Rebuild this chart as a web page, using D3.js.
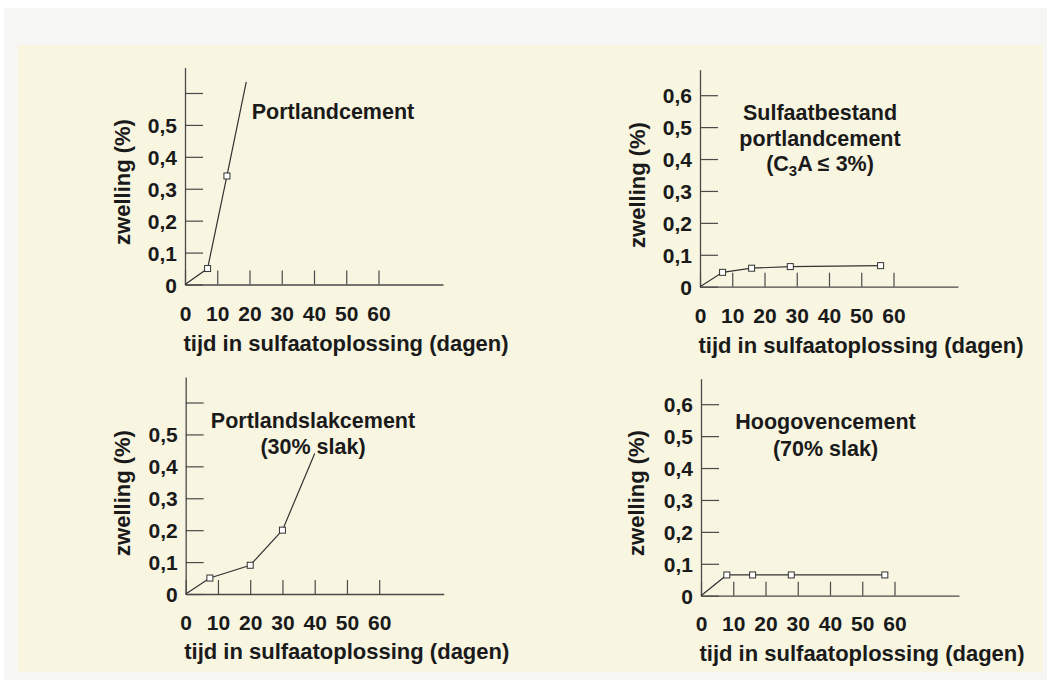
<!DOCTYPE html>
<html>
<head>
<meta charset="utf-8">
<script src="https://cdn.jsdelivr.net/npm/d3@7"></script>
<style>
  html, body { margin: 0; padding: 0; background: #ffffff; }
  svg { display: block; }
  text { font-family: "Liberation Sans", Arial, Helvetica, sans-serif; font-weight: bold; fill: #1a1a1a; }
</style>
</head>
<body>
<svg id="chart" width="1047" height="684"></svg>
<script>
// ---------- data ----------
const xTickValues = [0, 10, 20, 30, 40, 50, 60];
const yTickValues = [0, 0.1, 0.2, 0.3, 0.4, 0.5, 0.6];
const yLabelsShort = [0, 0.1, 0.2, 0.3, 0.4, 0.5];        // left panels: 0,6 tick unlabelled
const yLabelsFull  = [0, 0.1, 0.2, 0.3, 0.4, 0.5, 0.6];

const xTitle = "tijd in sulfaatoplossing (dagen)";
const yTitle = "zwelling (%)";

// Portlandcement
const pcDays   = [0, 7, 13, 19];
const pcSwell  = [0, 0.05, 0.34, 0.635];
const pcMarked = [false, true, true, false];

// Sulfaatbestand portlandcement
const srDays   = [0, 7, 16, 28, 56];
const srSwell  = [0, 0.045, 0.058, 0.063, 0.066];
const srMarked = [false, true, true, true, true];

// Portlandslakcement (30% slak)
const psDays   = [0, 7.5, 20, 30, 40];
const psSwell  = [0, 0.05, 0.09, 0.2, 0.44];
const psMarked = [false, true, true, true, false];

// Hoogovencement (70% slak)
const hoDays   = [0, 8, 16, 28, 57];
const hoSwell  = [0, 0.065, 0.065, 0.065, 0.065];
const hoMarked = [false, true, true, true, true];

// ---------- layout ----------
const svg = d3.select("#chart");
svg.append("rect").attr("x", 0).attr("y", 0).attr("width", 1047).attr("height", 684).attr("fill", "#ffffff");
svg.append("rect").attr("x", 4).attr("y", 8).attr("width", 1043).attr("height", 672).attr("fill", "#f6f6f5");
svg.append("rect").attr("x", 18).attr("y", 45).attr("width", 1025).attr("height", 627).attr("fill", "#f8f5e1");

const W60 = 193.5, H06 = 191.5;

const panels = [
  { days: pcDays, swell: pcSwell, marked: pcMarked, labels: yLabelsShort,
    x0: 185, y0: 284.5, xLabBase: 320.5, xTitleBase: 350.5, yTitleX: 130, yTitleY: 182,
    title: [["Portlandcement"]], titleX: 333, titleBase: [119] },
  { days: srDays, swell: srSwell, marked: srMarked, labels: yLabelsFull,
    x0: 700, y0: 286.7, xLabBase: 323, xTitleBase: 353, yTitleX: 645, yTitleY: 185,
    title: [["Sulfaatbestand"], ["portlandcement"], ["(C", "3", "A \u2264 3%)"]], titleX: 820, titleBase: [120, 145.5, 171] },
  { days: psDays, swell: psSwell, marked: psMarked, labels: yLabelsShort,
    x0: 185.7, y0: 594, xLabBase: 630, xTitleBase: 659, yTitleX: 130, yTitleY: 493,
    title: [["Portlandslakcement"], ["(30% slak)"]], titleX: 313, titleBase: [427.5, 453.5] },
  { days: hoDays, swell: hoSwell, marked: hoMarked, labels: yLabelsFull,
    x0: 701, y0: 595.7, xLabBase: 631, xTitleBase: 661, yTitleX: 644, yTitleY: 493,
    title: [["Hoogovencement"], ["(70% slak)"]], titleX: 825.5, titleBase: [429, 455.5] }
];

const fmt = v => v === 0 ? "0" : d3.format(".1f")(v).replace(".", ",");

panels.forEach(p => {
  const g = svg.append("g");
  const x = d3.scaleLinear().domain([0, 80]).range([p.x0, p.x0 + W60 * 80 / 60]);
  const y = d3.scaleLinear().domain([0, 0.68]).range([p.y0, p.y0 - H06 * 0.68 / 0.6]);

  // y axis (ticks point into plot, labels to the left)
  const yAxis = d3.axisLeft(y)
    .tickValues(yTickValues)
    .tickSizeInner(-18)
    .tickSizeOuter(0)
    .tickPadding(8)
    .tickFormat(v => p.labels.some(l => Math.abs(l - v) < 1e-9) ? fmt(v) : "");
  const ya = g.append("g").attr("transform", `translate(${p.x0},0)`).call(yAxis);

  // x axis (ticks point up into plot)
  const xAxis = d3.axisBottom(x)
    .tickValues(xTickValues)
    .tickSizeInner(-14)
    .tickSizeOuter(0)
    .tickPadding(0)
    .tickFormat(d3.format("d"));
  const xa = g.append("g").attr("transform", `translate(0,${p.y0})`).call(xAxis);

  [ya, xa].forEach(a => {
    a.select(".domain").attr("stroke", "#4a4a4a").attr("stroke-width", 1.3);
    a.selectAll(".tick line").attr("stroke", "#4a4a4a").attr("stroke-width", 1.2);
    a.selectAll(".tick text")
      .attr("fill", "#1a1a1a")
      .style("font-family", '"Liberation Sans", Arial, sans-serif')
      .style("font-weight", "bold")
      .style("font-size", "21px");
  });
  ya.selectAll(".tick text").attr("dy", "0.36em");
  xa.selectAll(".tick text").attr("dy", 0).attr("y", p.xLabBase - p.y0);

  // titles
  g.append("text")
    .attr("x", p.x0 - 1.5).attr("y", p.xTitleBase)
    .style("font-size", "22px")
    .text(xTitle);
  g.append("text")
    .attr("transform", `translate(${p.yTitleX},${p.yTitleY}) rotate(-90)`)
    .attr("text-anchor", "middle")
    .style("font-size", "22px")
    .text(yTitle);

  p.title.forEach((line, i) => {
    const t = g.append("text")
      .attr("x", p.titleX).attr("y", p.titleBase[i])
      .attr("text-anchor", "middle")
      .style("font-size", "21.5px");
    if (line.length === 1) {
      t.text(line[0]);
    } else {
      t.append("tspan").text(line[0]);
      t.append("tspan").attr("dy", 5).style("font-size", "15px").text(line[1]);
      t.append("tspan").attr("dy", -5).text(line[2]);
    }
  });

  // data line
  const pts = p.days.map((d, i) => ({ d, v: p.swell[i], m: p.marked[i] }));
  const line = d3.line().x(q => x(q.d)).y(q => y(q.v));
  g.append("path")
    .datum(pts)
    .attr("d", line)
    .attr("fill", "none")
    .attr("stroke", "#333333")
    .attr("stroke-width", 1.2);

  const s = 6;
  g.selectAll("rect.marker")
    .data(pts.filter(q => q.m))
    .join("rect")
    .attr("class", "marker")
    .attr("x", q => x(q.d) - s / 2)
    .attr("y", q => y(q.v) - s / 2)
    .attr("width", s).attr("height", s)
    .attr("fill", "#ffffff")
    .attr("stroke", "#333333")
    .attr("stroke-width", 1);
});
</script>
</body>
</html>
